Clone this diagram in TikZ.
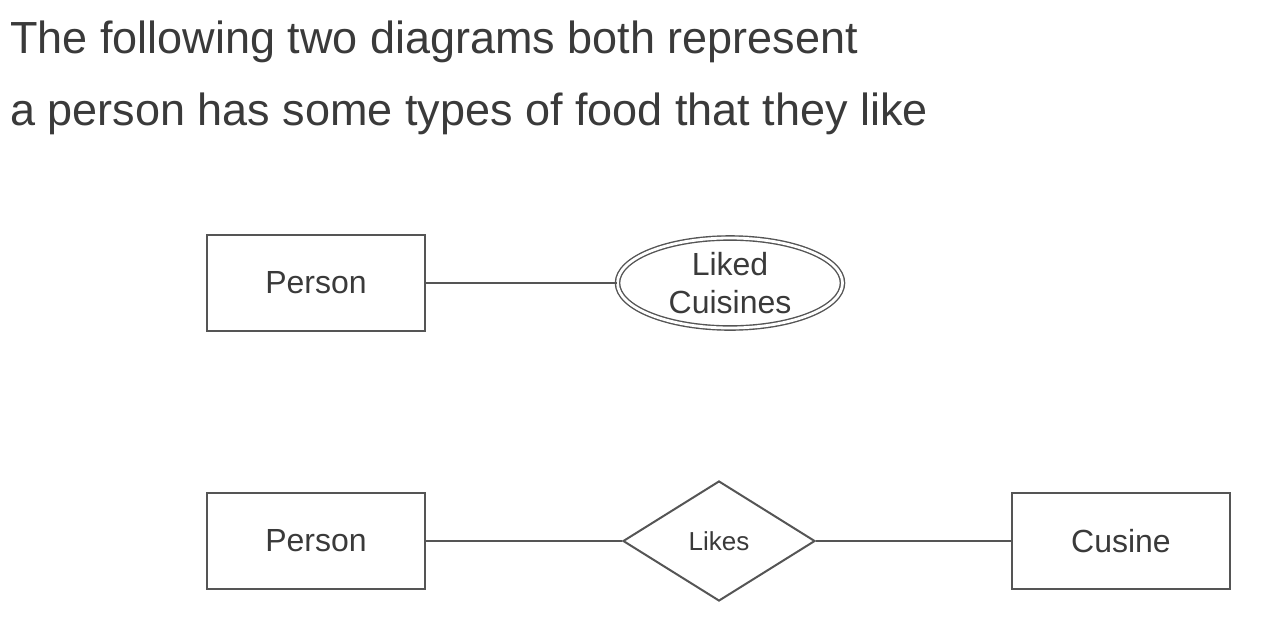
\documentclass[tikz,border=0pt]{standalone}
\usepackage{fontspec}
\setmainfont{Liberation Sans}
\usetikzlibrary{shapes.geometric,positioning}
\definecolor{ink}{HTML}{3A3A3A}
\definecolor{edge}{HTML}{555555}
\begin{document}
\begin{tikzpicture}[x=0.5pt,y=-0.5pt,font=\fontsize{16}{19}\selectfont,text=ink,
	entity/.style={draw=edge,line width=1pt,minimum width=109pt,minimum height=48pt,inner sep=0pt},
	multiattr/.style={ellipse,draw=edge,double,double distance=1.4pt,line width=0.7pt,minimum width=112.5pt,minimum height=45pt,inner sep=0pt,align=center},
	relation/.style={diamond,draw=edge,line width=1pt,minimum width=96pt,minimum height=60pt,inner sep=0pt,font=\fontsize{13}{15}\selectfont},
	link/.style={draw=edge,line width=1pt}]
		\useasboundingbox (0,0) rectangle (1264,616);
		\node[anchor=base west,font=\fontsize{22.5}{27}\selectfont] (line1) at (3,53) {The following two diagrams both represent};
		\node[anchor=base west,font=\fontsize{22.5}{27}\selectfont] (line2) at (3,125) {a person has some types of food that they like};
		\node[entity] (person1) at (316,283) {Person};
		\node[multiattr] (liked) at (730,283) {Liked\\Cuisines};
		\draw[link] (person1)--(liked);
		\node[entity] (person2) at (316,541) {Person};
		\node[relation] (likes) at (719,541) {Likes};
		\node[entity] (cusine) at (1121,541) {Cusine};
		\draw[link] (person2)--(likes)--(cusine);
	\end{tikzpicture}
\end{document}
